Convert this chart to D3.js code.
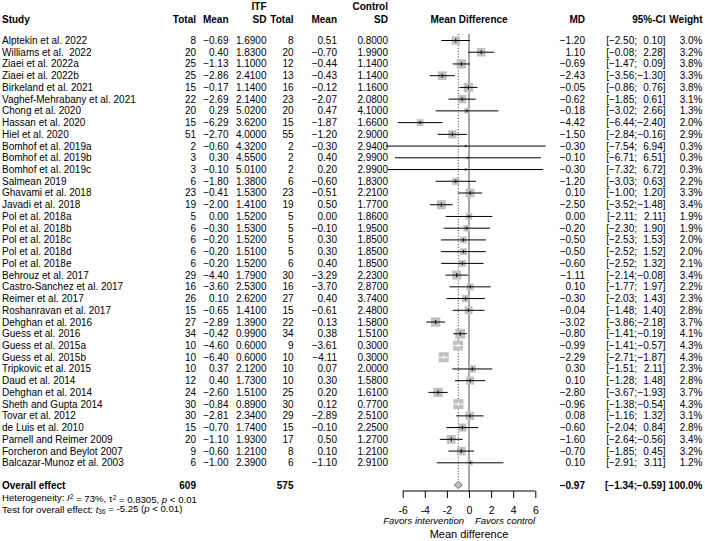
<!DOCTYPE html>
<html>
<head>
<meta charset="utf-8">
<script src="https://cdn.jsdelivr.net/npm/d3@7"></script>
<style>
  html, body { margin: 0; padding: 0; background: #fff; }
  svg text { fill: #000; white-space: pre; }
</style>
</head>
<body>
<svg id="chart" width="705" height="541"></svg>
<script>
const studies = ["Alptekin et al. 2022","Williams et al.  2022","Ziaei et al. 2022a","Ziaei et al. 2022b","Birkeland et al. 2021","Vaghef-Mehrabany et al. 2021","Chong et al. 2020","Hassan et al. 2020","Hiel et al. 2020","Bomhof et al. 2019a","Bomhof et al. 2019b","Bomhof et al. 2019c","Salmean 2019","Ghavami et al. 2018","Javadi et al. 2018","Pol et al. 2018a","Pol et al. 2018b","Pol et al. 2018c","Pol et al. 2018d","Pol et al. 2018e","Behrouz et al. 2017","Castro-Sanchez et al. 2017","Reimer et al. 2017","Roshanravan et al. 2017","Dehghan et al. 2016","Guess et al. 2016","Guess et al. 2015a","Guess et al. 2015b","Tripkovic et al. 2015","Daud et al. 2014","Dehghan et al. 2014","Sheth and Gupta 2014","Tovar et al. 2012","de Luis et al. 2010","Parnell and Reimer 2009","Forcheron and Beylot 2007","Balcazar-Munoz et al. 2003"];
const itfTotal = [8,20,25,25,15,22,20,15,51,2,3,3,6,23,19,5,6,6,6,6,29,16,26,15,27,34,10,10,10,12,24,30,30,15,20,9,6];
const itfMean = [-0.69,0.40,-1.13,-2.86,-0.17,-2.69,0.29,-6.29,-2.70,-0.60,0.30,-0.10,-1.80,-0.41,-2.00,0.00,-0.30,-0.20,-0.20,-0.20,-4.40,-3.60,0.10,-0.65,-2.89,-0.42,-4.60,-6.40,0.37,0.40,-2.60,-0.84,-2.81,-0.70,-1.10,-0.60,-1.00];
const itfSD = [1.69,1.83,1.10,2.41,1.14,2.14,5.02,3.62,4.00,4.32,4.55,5.01,1.38,1.53,1.41,1.52,1.53,1.52,1.51,1.52,1.79,2.53,2.62,1.41,1.39,0.99,0.60,0.60,2.12,1.73,1.51,0.89,2.34,1.74,1.93,1.21,2.39];
const ctrlTotal = [8,20,12,13,16,23,20,15,55,2,2,2,6,23,19,5,5,5,5,6,30,16,27,15,22,34,9,10,10,10,25,30,29,15,17,8,6];
const ctrlMean = [0.51,-0.70,-0.44,-0.43,-0.12,-2.07,0.47,-1.87,-1.20,-0.30,0.40,0.20,-0.60,-0.51,0.50,0.00,-0.10,0.30,0.30,0.40,-3.29,-3.70,0.40,-0.61,0.13,0.38,-3.61,-4.11,0.07,0.30,0.20,0.12,-2.89,-0.10,0.50,0.10,-1.10];
const ctrlSD = [0.80,1.99,1.14,1.14,1.16,2.08,4.10,1.66,2.90,2.94,2.99,2.99,1.83,2.21,1.77,1.86,1.95,1.85,1.85,1.85,2.23,2.87,3.74,2.48,1.58,1.51,0.30,0.30,2.00,1.58,1.61,0.77,2.51,2.25,1.27,1.21,2.91];
const md = [-1.20,1.10,-0.69,-2.43,-0.05,-0.62,-0.18,-4.42,-1.50,-0.30,-0.10,-0.30,-1.20,0.10,-2.50,0.00,-0.20,-0.50,-0.50,-0.60,-1.11,0.10,-0.30,-0.04,-3.02,-0.80,-0.99,-2.29,0.30,0.10,-2.80,-0.96,0.08,-0.60,-1.60,-0.70,0.10];
const ciLower = [-2.50,-0.08,-1.47,-3.56,-0.86,-1.85,-3.02,-6.44,-2.84,-7.54,-6.71,-7.32,-3.03,-1.00,-3.52,-2.11,-2.30,-2.53,-2.52,-2.52,-2.14,-1.77,-2.03,-1.48,-3.86,-1.41,-1.41,-2.71,-1.51,-1.28,-3.67,-1.38,-1.16,-2.04,-2.64,-1.85,-2.91];
const ciUpper = [0.10,2.28,0.09,-1.30,0.76,0.61,2.66,-2.40,-0.16,6.94,6.51,6.72,0.63,1.20,-1.48,2.11,1.90,1.53,1.52,1.32,-0.08,1.97,1.43,1.40,-2.18,-0.19,-0.57,-1.87,2.11,1.48,-1.93,-0.54,1.32,0.84,-0.56,0.45,3.11];
const weight = [3.0,3.2,3.8,3.3,3.8,3.1,1.3,2.0,2.9,0.3,0.3,0.3,2.2,3.3,3.4,1.9,1.9,2.0,2.0,2.1,3.4,2.2,2.3,2.8,3.7,4.1,4.3,4.3,2.3,2.8,3.7,4.3,3.1,2.8,3.4,3.2,1.2];
const overall = {label: "Overall effect", itfN: 609, ctrlN: 575, md: -0.97, lower: -1.34, upper: -0.59, weight: "100.0%"};
const xTicks = [-6,-4,-2,0,2,4,6];

const FONT = "'Liberation Sans', Arial, Helvetica, sans-serif";
const FS = 10;
const svg = d3.select("#chart").style("font-family", FONT);
const x = d3.scaleLinear().domain([-6, 6]).range([402.7, 535.3]);
const y = d3.scaleLinear().domain([0, studies.length - 1]).range([40.5, 462.8]);
const side = d3.scaleSqrt().domain([0, 4.3]).range([0, 10]);
const f2 = d3.format(".2f"), f4 = d3.format(".4f"), f1 = d3.format(".1f");
const yOverall = 485, yAxis = 491;

const col = {study: 2, itfN: 196, itfM: 228.5, itfS: 266.5, cN: 293.5, cM: 337, cS: 388, md: 585, ciL: 637, ciU: 665.5, w: 702.5};

function txt(g, xx, yy, s, anchor, opts) {
  opts = opts || {};
  return g.append("text").attr("x", xx).attr("y", yy).attr("dy", "0.35em")
    .attr("text-anchor", anchor).style("font-family", FONT).style("font-size", (opts.size || FS) + "px")
    .style("font-weight", opts.bold ? "bold" : "normal")
    .style("font-style", opts.italic ? "italic" : "normal").text(s);
}

// Headers
const hdr = svg.append("g");
txt(hdr, col.itfS, 6, "ITF", "end", {bold: true});
txt(hdr, col.cS, 6, "Control", "end", {bold: true});
txt(hdr, col.study, 19, "Study", "start", {bold: true});
txt(hdr, col.itfN, 19, "Total", "end", {bold: true});
txt(hdr, col.itfM, 19, "Mean", "end", {bold: true});
txt(hdr, col.itfS, 19, "SD", "end", {bold: true});
txt(hdr, col.cN, 19, "Total", "end", {bold: true});
txt(hdr, col.cM, 19, "Mean", "end", {bold: true});
txt(hdr, col.cS, 19, "SD", "end", {bold: true});
txt(hdr, x(0), 19, "Mean Difference", "middle", {bold: true});
txt(hdr, col.md, 19, "MD", "end", {bold: true});
txt(hdr, col.ciU, 19, "95%-CI", "end", {bold: true});
txt(hdr, col.w, 19, "Weight", "end", {bold: true});

// Table rows
const rows = svg.append("g");
studies.forEach((s, i) => {
  const yy = y(i);
  txt(rows, col.study, yy, s, "start");
  txt(rows, col.itfN, yy, String(itfTotal[i]), "end");
  txt(rows, col.itfM, yy, f2(itfMean[i]), "end");
  txt(rows, col.itfS, yy, f4(itfSD[i]), "end");
  txt(rows, col.cN, yy, String(ctrlTotal[i]), "end");
  txt(rows, col.cM, yy, f2(ctrlMean[i]), "end");
  txt(rows, col.cS, yy, f4(ctrlSD[i]), "end");
  txt(rows, col.md, yy, f2(md[i]), "end");
  txt(rows, col.ciL, yy, "[" + f2(ciLower[i]) + ";", "end");
  txt(rows, col.ciU, yy, f2(ciUpper[i]) + "]", "end");
  txt(rows, col.w, yy, f1(weight[i]) + "%", "end");
});

// Overall row
txt(rows, col.study, yOverall, overall.label, "start", {bold: true});
txt(rows, col.itfN, yOverall, String(overall.itfN), "end", {bold: true});
txt(rows, col.cN, yOverall, String(overall.ctrlN), "end", {bold: true});
txt(rows, col.md, yOverall, f2(overall.md), "end", {bold: true});
txt(rows, col.ciL, yOverall, "[" + f2(overall.lower) + ";", "end", {bold: true});
txt(rows, col.ciU, yOverall, f2(overall.upper) + "]", "end", {bold: true});
txt(rows, col.w, yOverall, overall.weight, "end", {bold: true});

// Heterogeneity & test
const het = svg.append("text").attr("x", col.study).attr("y", 497.5).attr("dy", "0.35em")
  .style("font-family", FONT).style("font-size", "9.6px");
het.append("tspan").text("Heterogeneity: ");
het.append("tspan").style("font-style", "italic").text("I");
het.append("tspan").attr("dy", "-0.3em").style("font-size", "6.5px").text("2");
het.append("tspan").attr("dy", "0.3em").text(" = 73%, \u03c4");
het.append("tspan").attr("dy", "-0.3em").style("font-size", "6.5px").text("2");
het.append("tspan").attr("dy", "0.3em").text(" = 0.8305, ");
het.append("tspan").style("font-style", "italic").text("p");
het.append("tspan").text(" < 0.01");

const tst = svg.append("text").attr("x", col.study).attr("y", 509.3).attr("dy", "0.35em")
  .style("font-family", FONT).style("font-size", "9.6px");
tst.append("tspan").text("Test for overall effect: ");
tst.append("tspan").style("font-style", "italic").text("t");
tst.append("tspan").attr("dy", "0.2em").style("font-size", "6.5px").text("36");
tst.append("tspan").attr("dy", "-0.2em").text(" = -5.25 (");
tst.append("tspan").style("font-style", "italic").text("p");
tst.append("tspan").text(" < 0.01)");

// Plot: reference lines
const plot = svg.append("g");
plot.append("line").attr("x1", x(0)).attr("x2", x(0)).attr("y1", 34).attr("y2", yAxis)
  .attr("stroke", "#a6a6a6").attr("stroke-width", 2);
plot.append("line").attr("x1", x(overall.md)).attr("x2", x(overall.md)).attr("y1", 34).attr("y2", yOverall - 3.5)
  .attr("stroke", "#000").attr("stroke-width", 0.8).attr("stroke-dasharray", "1,1.8");

// Study marks
studies.forEach((s, i) => {
  const yy = y(i), sz = side(weight[i]);
  const inside = (x(ciUpper[i]) - x(ciLower[i])) <= sz;
  const lc = inside ? "#fff" : "#000";
  plot.append("rect").attr("x", x(md[i]) - sz / 2).attr("y", yy - sz / 2)
    .attr("width", sz).attr("height", sz).attr("fill", "#c0c0c0");
  plot.append("line").attr("x1", x(ciLower[i])).attr("x2", x(ciUpper[i])).attr("y1", yy).attr("y2", yy)
    .attr("stroke", lc).attr("stroke-width", 1);
  const th = Math.max(2, Math.min(4, sz * 0.45));
  plot.append("line").attr("x1", x(md[i])).attr("x2", x(md[i])).attr("y1", yy - th / 2).attr("y2", yy + th / 2)
    .attr("stroke", lc).attr("stroke-width", 1);
});

// Diamond
const dh = 3.6;
plot.append("path")
  .attr("d", `M${x(overall.lower)},${yOverall} L${x(overall.md)},${yOverall - dh} L${x(overall.upper)},${yOverall} L${x(overall.md)},${yOverall + dh} Z`)
  .attr("fill", "#bebebe").attr("stroke", "#555").attr("stroke-width", 0.8);

// Axis
const axis = svg.append("g").attr("transform", `translate(0,${yAxis})`)
  .call(d3.axisBottom(x).tickValues(xTicks).tickSize(7).tickPadding(9).tickFormat(d3.format("d")));
axis.attr("font-family", null);
axis.select(".domain").attr("stroke", "#000").attr("d", `M${x(-6)},0H${x(6)}`);
axis.selectAll(".tick line").attr("stroke", "#000");
axis.selectAll(".tick text").style("font-size", "10.5px").style("font-family", FONT).attr("fill", "#000")
  .text(d => d < 0 ? "-" + Math.abs(d) : String(d));

txt(svg, x(0) - 5, 521, "Favors intervention", "end", {italic: true, size: 9.5});
txt(svg, x(0) + 6, 521, "Favors control", "start", {italic: true, size: 9.5});
txt(svg, x(0), 534.5, "Mean difference", "middle", {size: 11});
</script>
</body>
</html>
